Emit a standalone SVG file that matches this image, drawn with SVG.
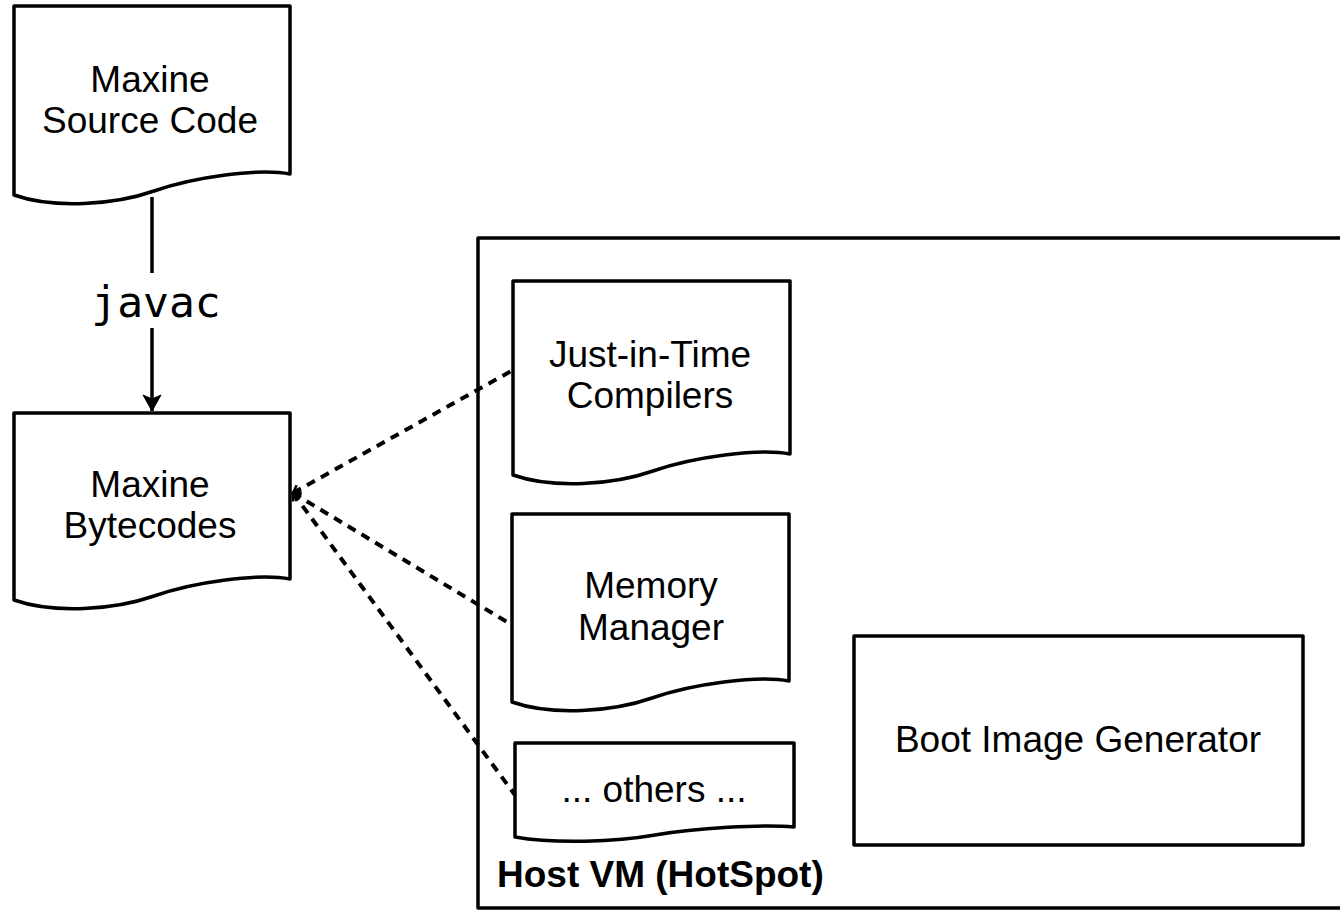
<svg xmlns="http://www.w3.org/2000/svg" width="1340" height="911" viewBox="0 0 1340 911">
<style>
.shape{fill:#fff;stroke:#000;stroke-width:3.5;stroke-linejoin:round}
.lbl{font-family:"Liberation Sans",Arial,sans-serif;font-size:37px;fill:#000;text-anchor:middle}
.bold{font-family:"Liberation Sans",Arial,sans-serif;font-size:37px;font-weight:bold;fill:#000}
.mono{font-family:"DejaVu Sans Mono","Liberation Mono",monospace;font-size:43px;fill:#000;text-anchor:middle}
.edge{fill:none;stroke:#000;stroke-width:3.5}
.dash{fill:none;stroke:#000;stroke-width:4;stroke-dasharray:9 7}
</style>
<defs>
<marker id="solidArrow" markerUnits="userSpaceOnUse" markerWidth="24" markerHeight="24" viewBox="-20 -10 24 20" refX="0" refY="0" orient="auto">
<path d="M0,0 L-16,-9 L-12,0 L-16,9 Z" fill="#000" stroke="#000" stroke-width="1"/>
</marker>
<marker id="openArrow" markerUnits="userSpaceOnUse" markerWidth="20" markerHeight="20" viewBox="-10 -10 20 20" refX="0" refY="0" orient="auto-start-reverse">
<path d="M-7,-5 L0,0 L-7,5" fill="none" stroke="#000" stroke-width="2.5"/>
</marker>
</defs>
<g id="host-vm">
<rect x="478" y="238" width="880" height="670" class="shape"/>
<text x="497" y="887" class="bold">Host VM (HotSpot)</text>
</g>
<g id="source-code">
<path class="shape" d="M14,6 H290 V174 C259,168 194,177 154,191 C114,205 54,209 14,195 Z"/>
<text class="lbl" x="150" y="92">Maxine</text>
<text class="lbl" x="150" y="133">Source Code</text>
</g>
<g id="bytecodes">
<path class="shape" d="M14,413 H290 V579 C259,573 194,582 154,596 C114,610 54,614 14,600 Z"/>
<text class="lbl" x="150" y="497">Maxine</text>
<text class="lbl" x="150" y="538">Bytecodes</text>
</g>
<g id="jit">
<path class="shape" d="M513,281 H790 V454 C759,448 693,457 653,471 C613,485 553,489 513,475 Z"/>
<text class="lbl" x="650" y="367">Just-in-Time</text>
<text class="lbl" x="650" y="408">Compilers</text>
</g>
<g id="memory">
<path class="shape" d="M512,514 H789 V681 C758,675 692,684 652,698 C612,712 552,716 512,702 Z"/>
<text class="lbl" x="651" y="598">Memory</text>
<text class="lbl" x="651" y="640">Manager</text>
</g>
<g id="others">
<path class="shape" d="M515,743 H794 V827 C763,824 695,828 655,835 C615,842 555,844 515,837 Z"/>
<text class="lbl" x="654" y="802">... others ...</text>
</g>
<g id="boot-image-generator">
<rect x="854" y="636" width="449" height="209" class="shape"/>
<text class="lbl" x="1078" y="752">Boot Image Generator</text>
</g>
<g id="connectors">
<line class="edge" x1="152" y1="197" x2="152" y2="273"/>
<line class="edge" x1="152" y1="328" x2="152" y2="411" marker-end="url(#solidArrow)"/>
<text class="mono" x="156" y="317">javac</text>
<line class="dash" x1="293" y1="493" x2="513" y2="370" marker-start="url(#openArrow)"/>
<line class="dash" x1="293" y1="493" x2="512" y2="625" marker-start="url(#openArrow)"/>
<line class="dash" x1="293" y1="493" x2="515" y2="795" marker-start="url(#openArrow)"/>
</g>
</svg>
